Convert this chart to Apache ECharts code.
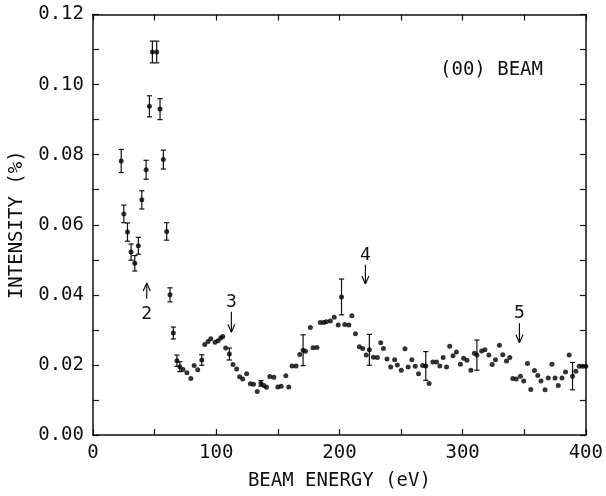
<!DOCTYPE html>
<html>
<head>
<meta charset="utf-8">
<script src="https://cdn.jsdelivr.net/npm/echarts@6/dist/echarts.min.js"></script>
<style>html,body{margin:0;padding:0;background:#fff}#c{width:606px;height:496px}</style>
</head>
<body>
<div id="c"></div>
<script>
// Beam energy (eV)
const energy = [22.9,25.0,28.0,30.9,33.9,36.8,39.6,43.1,45.8,48.2,51.7,54.4,57.1,59.8,62.5,65.2,68.1,
70.5,73.0,76.2,79.4,82.1,85.0,88.3,90.7,93.4,95.6,99.1,101.5,103.7,105.3,107.7,110.7,113.6,116.6,119.0,
121.5,124.7,127.7,130.3,133.3,136.3,138.7,140.8,143.5,146.8,150.0,152.7,156.5,158.9,161.6,164.8,167.8,
170.5,172.4,176.4,178.6,181.8,184.5,187.2,189.3,192.6,195.8,199.0,201.7,204.4,207.7,210.1,213.0,216.2,
218.9,221.7,224.3,227.6,230.8,233.5,235.7,238.6,241.6,244.8,247.0,250.2,253.2,255.8,258.8,261.5,264.2,
267.5,270.1,272.8,275.8,278.8,281.5,284.2,286.9,289.5,292.2,294.9,298.2,300.8,303.5,306.7,309.5,311.6,
315.4,318.1,321.3,324.0,326.7,329.9,332.6,335.6,338.3,340.7,343.5,346.9,349.6,352.6,355.3,358.3,361.0,
363.6,366.9,369.5,372.5,375.0,377.6,380.6,383.5,386.5,389.2,391.9,394.6,397.3,400.0];
// Intensity (%)
const intensity = [0.0782,0.0631,0.0579,0.0522,0.0490,0.0540,0.0671,0.0757,0.0938,0.1093,0.1093,0.0930,0.0786,0.0581,0.0400,0.0291,0.0212,
0.0195,0.0187,0.0178,0.0161,0.0198,0.0186,0.0214,0.0258,0.0267,0.0275,0.0265,0.0269,0.0277,0.0281,0.0248,0.0231,0.0201,0.0188,0.0166,
0.0160,0.0175,0.0146,0.0145,0.0124,0.0147,0.0141,0.0136,0.0167,0.0165,0.0137,0.0139,0.0169,0.0137,0.0197,0.0197,0.0230,
0.0242,0.0239,0.0307,0.0249,0.0250,0.0321,0.0321,0.0323,0.0325,0.0336,0.0314,0.0394,0.0315,0.0314,0.0340,0.0289,0.0252,
0.0247,0.0228,0.0243,0.0222,0.0221,0.0263,0.0247,0.0217,0.0194,0.0215,0.0200,0.0185,0.0246,0.0194,0.0215,0.0196,0.0175,
0.0198,0.0197,0.0147,0.0208,0.0208,0.0197,0.0221,0.0194,0.0253,0.0226,0.0237,0.0202,0.0219,0.0213,0.0185,0.0233,0.0228,
0.0240,0.0243,0.0228,0.0201,0.0215,0.0256,0.0229,0.0211,0.0221,0.0161,0.0160,0.0168,0.0154,0.0204,0.0130,0.0184,0.0170,
0.0154,0.0129,0.0163,0.0202,0.0163,0.0141,0.0163,0.0180,0.0228,0.0168,0.0182,0.0196,0.0196,0.0196];
// Error half-widths (0 = no bar drawn)
const errorBar = [0.0033,0.0025,0.0026,0.0023,0.0022,0.0024,0.0026,0.0027,0.0030,0.0031,0.0031,0.0030,0.0027,0.0025,0.0020,0.0017,0.0016,
0.0014,0,0,0,0,0,0.0015,0,0,0,0,0,0,0,0,0.0017,0,0,0,
0,0,0,0,0,0.0008,0,0,0,0,0,0,0,0,0,0,0,
0.0044,0,0,0,0,0,0,0,0,0,0,0.0051,0,0,0,0,0,
0,0,0.0044,0,0,0,0,0,0,0,0,0,0,0,0,0,0,
0,0.0041,0,0,0,0,0,0,0,0,0,0,0,0,0,0,
0.0043,0,0,0,0,0,0,0,0,0,0,0,0,0,0,0,0,
0,0,0,0,0,0,0,0,0,0,0.0039,0,0,0];
// Arrow annotations: label, energy, tail, tip, label position
const arrowLabels = ['2','3','4','5'];
const arrowEnergy = [43.6,112.3,221.1,346.1];
const arrowTail = [0.0389,0.0352,0.0486,0.0319];
const arrowTip = [0.0434,0.0293,0.0431,0.0263];
const arrowLabelY = [0.0345,0.0380,0.0512,0.0346];
const xTicks = [0,100,200,300,400];
const yTicks = [0,0.02,0.04,0.06,0.08,0.10,0.12];

const FONT = 'DejaVu Sans Mono';
const INK = '#111';
const chart = echarts.init(document.getElementById('c'));

const pts = energy.map((e,i)=>[e,intensity[i]]);
const errs = energy.map((e,i)=>[e,intensity[i],errorBar[i]]).filter(d=>d[2]>0);
const arrows = arrowEnergy.map((e,i)=>[e,arrowTail[i],arrowTip[i],arrowLabelY[i],i]);

const axisCommon = {
  axisLine:{show:true,onZero:false,lineStyle:{color:INK,width:1.5}},
  axisTick:{show:true,inside:true,length:6,lineStyle:{color:INK,width:1.2}},
  splitLine:{show:false}
};
function xlab(v){ return xTicks.indexOf(Math.round(v))>=0 ? String(Math.round(v)) : ''; }
function ylab(v){ const r=Math.round(v*100); return r%2===0 ? (r/100).toFixed(2) : ''; }

chart.setOption({
  animation:false,
  backgroundColor:'#fff',
  grid:{left:91.7,right:19.3,top:14.5,bottom:51.6},
  xAxis:[
    Object.assign({type:'value',min:0,max:400,interval:50,position:'bottom',
      name:'BEAM ENERGY (eV)',nameLocation:'middle',nameGap:37,
      nameTextStyle:{fontFamily:FONT,fontSize:19,color:INK},
      axisLabel:{formatter:xlab,fontFamily:FONT,fontSize:19,color:INK,margin:9,showMinLabel:true,showMaxLabel:true}},axisCommon),
    Object.assign({type:'value',min:0,max:400,interval:50,position:'top',axisLabel:{show:false}},axisCommon)
  ],
  yAxis:[
    Object.assign({type:'value',min:0,max:0.12,interval:0.01,position:'left',
      name:'INTENSITY (%)',nameLocation:'middle',nameGap:66,nameRotate:90,
      nameTextStyle:{fontFamily:FONT,fontSize:19,color:INK},
      axisLabel:{formatter:ylab,fontFamily:FONT,fontSize:19,color:INK,margin:9}},axisCommon),
    Object.assign({type:'value',min:0,max:0.12,interval:0.01,position:'right',axisLabel:{show:false}},axisCommon)
  ],
  graphic:[{type:'text',left:440,top:61,style:{text:'(00) BEAM',fontFamily:FONT,fontSize:19,fill:INK}}],
  series:[
    {type:'custom',xAxisIndex:0,yAxisIndex:0,data:errs,silent:true,
      renderItem:function(params,api){
        const x=api.value(0),y=api.value(1),e=api.value(2);
        const t=api.coord([x,y+e]),b=api.coord([x,y-e]);
        const w=2.6;
        const st={stroke:INK,lineWidth:1.2};
        return {type:'group',children:[
          {type:'line',shape:{x1:t[0],y1:t[1],x2:b[0],y2:b[1]},style:st},
          {type:'line',shape:{x1:t[0]-w,y1:t[1],x2:t[0]+w,y2:t[1]},style:st},
          {type:'line',shape:{x1:b[0]-w,y1:b[1],x2:b[0]+w,y2:b[1]},style:st}
        ]};
      }},
    {type:'scatter',xAxisIndex:0,yAxisIndex:0,data:pts,symbol:'circle',symbolSize:5,
      itemStyle:{color:'#000'},silent:true},
    {type:'custom',xAxisIndex:0,yAxisIndex:0,data:arrows,silent:true,
      renderItem:function(params,api){
        const x=api.value(0);
        const a=api.coord([x,api.value(1)]),b=api.coord([x,api.value(2)]),l=api.coord([x,api.value(3)]);
        const dir=b[1]<a[1]?1:-1; // 1 = pointing up
        const st={stroke:INK,lineWidth:1.2};
        return {type:'group',children:[
          {type:'line',shape:{x1:a[0],y1:a[1],x2:b[0],y2:b[1]},style:st},
          {type:'line',shape:{x1:b[0]-3.5,y1:b[1]+dir*8,x2:b[0],y2:b[1]},style:st},
          {type:'line',shape:{x1:b[0]+3.5,y1:b[1]+dir*8,x2:b[0],y2:b[1]},style:st},
          {type:'text',x:l[0],y:l[1],style:{text:arrowLabels[api.value(4)],fontFamily:FONT,fontSize:18,fill:INK,align:'center',verticalAlign:'middle'}}
        ]};
      }}
  ]
});
</script>
</body>
</html>
